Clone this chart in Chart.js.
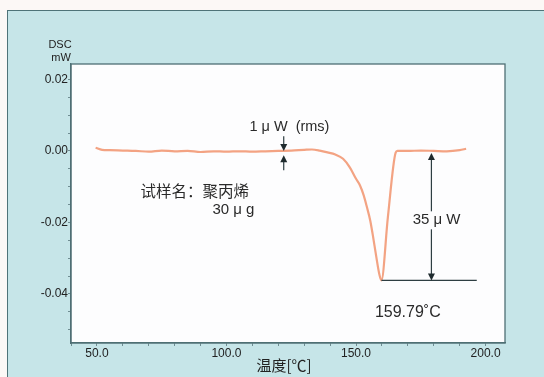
<!DOCTYPE html>
<html>
<head>
<meta charset="utf-8">
<script src="https://cdn.jsdelivr.net/npm/chart.js@4.4.1/dist/chart.umd.min.js"></script>
<style>
  html, body { margin: 0; padding: 0; background: #fcf8f6; }
  #wrap { position: relative; width: 544px; height: 377px; overflow: hidden; }
  #panel {
    position: absolute; left: 7px; top: 10px; width: 540px; height: 380px;
    background: #c6e5e8; box-sizing: border-box;
    border-left: 1.5px solid #4f7378; border-top: 1.5px solid #4f7378;
  }
  canvas { position: absolute; left: 0; top: 0; }
</style>
</head>
<body>
<div id="wrap">
  <div id="panel"></div>
  <canvas id="dsc" width="544" height="377"></canvas>
</div>
<script>
// ============================================================
// DATA
// ============================================================

const tempC = [
  49.5, 52, 55, 60, 65, 70, 75, 80, 85, 90, 95, 100, 105, 110, 115, 120,
  125, 130, 133, 136, 139, 142, 145, 147.6, 150, 151.5, 153, 154.2, 155.5,
  156.5, 157.8, 159, 159.8, 162.3, 165.3, 166, 170, 175, 180, 185, 190, 192.5
];

const dscMW = [
  0.0009, 0.0003, 0.0002, 0.0001, 0.0000, -0.0002, 0.0001, -0.0001, 0.0000,
  -0.0003, -0.0001, -0.0002, -0.0001, -0.0002, -0.0001, 0.0000,
  0.0001, 0.0003, 0.0004, 0.0001, -0.0004, -0.0010, -0.0022, -0.0046, -0.0078,
  -0.0096, -0.0125, -0.0157, -0.0195, -0.0236, -0.0295, -0.0345, -0.0362,
  -0.0185, -0.0005, 0.0000, 0.0000, 0.0001, 0.0000, -0.0001, 0.0002, 0.0006
];

const xTicks = [40, 50, 60, 70, 80, 90, 100, 110, 120, 130, 140, 150, 160, 170, 180, 190, 200];
const xLabels = [50, 100, 150, 200];

const yTicks = [-0.05, -0.045, -0.04, -0.035, -0.03, -0.025, -0.02, -0.015, -0.01,
  -0.005, 0, 0.005, 0.01, 0.015, 0.02];
const yLabels = [-0.04, -0.02, 0, 0.02];

// annotation anchors, in data units
const rmsArrow = { t: 122.1, from: 0.0041, tipTop: 0.0, tipBottom: -0.0012, to: -0.0054 };
const peakArrow = { t: 179.1, top: -0.0006, bottom: -0.0362 };
const peakLine = { from: 159.8, to: 196.6, v: -0.0362 };


// ============================================================
// HELPERS
// ============================================================

const latin = "'Liberation Sans', Arial, sans-serif";
const cjk = "'Noto Sans CJK SC', 'Noto Sans', sans-serif";

function arrowHead(ctx, x, y, dir) {
  // dir = 1 -> points down, -1 -> points up
  ctx.beginPath();
  ctx.moveTo(x, y);
  ctx.lineTo(x - 3.5, y - dir * 7);
  ctx.lineTo(x + 3.5, y - dir * 7);
  ctx.closePath();
  ctx.fill();
}

function text(ctx, str, x, y, font, align) {
  ctx.font = font;
  ctx.textAlign = align || "center";
  ctx.textBaseline = "middle";
  ctx.fillText(str, x, y);
}

const decorations = {
  id: "decorations",

  beforeDraw(chart) {
    const { ctx, chartArea: a } = chart;
    ctx.save();
    ctx.fillStyle = "#fdfdfe";
    ctx.fillRect(a.left, a.top, a.right - a.left, a.bottom - a.top);
    ctx.restore();
  },

  afterDraw(chart) {
    const { ctx, chartArea: a } = chart;
    const x = chart.scales.x;
    const y = chart.scales.y;

    ctx.save();

    // plot frame
    ctx.strokeStyle = "#4f6f74";
    ctx.lineWidth = 1.3;
    ctx.strokeRect(a.left, a.top, a.right - a.left, a.bottom - a.top);

    ctx.strokeStyle = "#2e3e42";
    ctx.fillStyle = "#1f2b2e";
    ctx.lineWidth = 1.2;

    // 1uW (rms) arrows
    const rx = x.getPixelForValue(rmsArrow.t);
    ctx.beginPath();
    ctx.moveTo(rx, y.getPixelForValue(rmsArrow.from));
    ctx.lineTo(rx, y.getPixelForValue(rmsArrow.tipTop) - 4);
    ctx.moveTo(rx, y.getPixelForValue(rmsArrow.to));
    ctx.lineTo(rx, y.getPixelForValue(rmsArrow.tipBottom) + 4);
    ctx.stroke();
    arrowHead(ctx, rx, y.getPixelForValue(rmsArrow.tipTop), 1);
    arrowHead(ctx, rx, y.getPixelForValue(rmsArrow.tipBottom), -1);

    // 35uW arrow and peak baseline
    const px = x.getPixelForValue(peakArrow.t);
    const pTop = y.getPixelForValue(peakArrow.top);
    const pBot = y.getPixelForValue(peakArrow.bottom);
    ctx.beginPath();
    ctx.moveTo(px, pTop + 4);
    ctx.lineTo(px, pBot - 4);
    const ly = y.getPixelForValue(peakLine.v);
    ctx.moveTo(x.getPixelForValue(peakLine.from), ly);
    ctx.lineTo(x.getPixelForValue(peakLine.to), ly);
    ctx.stroke();
    arrowHead(ctx, px, pTop, -1);
    arrowHead(ctx, px, pBot, 1);

    // labels
    ctx.fillStyle = "#2a2a2a";
    text(ctx, "1 μ W  (rms)", x.getPixelForValue(124.3), y.getPixelForValue(0.0066), "14.5px " + latin);
    text(ctx, "试样名：聚丙烯", x.getPixelForValue(87.8), y.getPixelForValue(-0.0112), "15.5px " + cjk);
    text(ctx, "30 μ g", x.getPixelForValue(102.7), y.getPixelForValue(-0.0166), "15px " + latin);

    const tx = x.getPixelForValue(181.1);
    const ty = y.getPixelForValue(-0.0194);
    ctx.fillStyle = "#fdfdfe";
    ctx.fillRect(tx - 26, ty - 9, 52, 18);
    ctx.fillStyle = "#2a2a2a";
    text(ctx, "35 μ W", tx, ty, "15px " + latin);

    text(ctx, "159.79˚C", x.getPixelForValue(170), y.getPixelForValue(-0.0453), "16px " + latin);

    // axis titles
    ctx.fillStyle = "#222";
    text(ctx, "DSC", 60, 45, "11px " + latin);
    text(ctx, "mW", 61, 58, "11px " + latin);
    text(ctx, "温度[℃]", 284, 365, "15px " + cjk);

    ctx.restore();
  }
};


// ============================================================
// CHART
// ============================================================

const points = tempC.map((t, i) => ({ x: t, y: dscMW[i] }));

new Chart(document.getElementById("dsc").getContext("2d"), {
  type: "line",
  data: {
    datasets: [{
      data: points,
      borderColor: "#f3a383",
      borderWidth: 2.2,
      pointRadius: 0,
      cubicInterpolationMode: "monotone",
      fill: false
    }]
  },
  options: {
    responsive: false,
    animation: false,
    layout: { padding: { left: 0, top: 64, right: 39, bottom: 0 } },
    plugins: { legend: { display: false }, tooltip: { enabled: false } },
    scales: {
      x: {
        type: "linear",
        min: 40,
        max: 207.5,
        afterBuildTicks: (s) => { s.ticks = xTicks.map(v => ({ value: v })); },
        afterFit: (s) => { s.height = 34; },
        ticks: {
          autoSkip: false,
          maxRotation: 0,
          padding: 0,
          color: "#222",
          font: { size: 12, family: latin },
          callback: (v) => xLabels.includes(v) ? v.toFixed(1) : ""
        },
        grid: { drawOnChartArea: false, tickLength: 3, color: "#6f8d92" },
        border: { color: "#4f6f74", width: 1.3 }
      },
      y: {
        type: "linear",
        min: -0.0537,
        max: 0.0243,
        afterBuildTicks: (s) => { s.ticks = yTicks.map(v => ({ value: v })); },
        afterFit: (s) => { s.width = 71; },
        ticks: {
          autoSkip: false,
          padding: 0,
          color: "#222",
          font: { size: 12, family: latin },
          callback: (v) => yLabels.some(l => Math.abs(l - v) < 1e-9) ? v.toFixed(2) : ""
        },
        grid: { drawOnChartArea: false, tickLength: 3, color: "#6f8d92" },
        border: { color: "#4f6f74", width: 1.3 }
      }
    }
  },
  plugins: [decorations]
});
</script>
</body>
</html>
